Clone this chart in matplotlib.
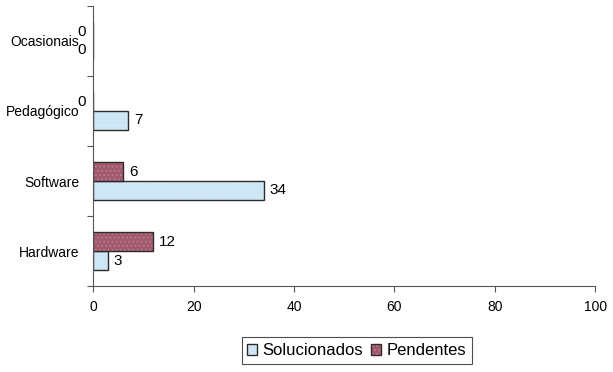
import matplotlib.pyplot as plt
import numpy as np

plt.rcParams['font.family'] = ['Liberation Sans', 'DejaVu Sans']

categorias = ['Hardware', 'Software', 'Pedagógico', 'Ocasionais']
solucionados = [3, 34, 7, 0]
pendentes = [12, 6, 0, 0]

cor_sol = '#cde6f5'
cor_pen = '#a3596d'
h = 0.27

fig = plt.figure(figsize=(6.13, 3.72), dpi=100)
ax = fig.add_axes([0.152, 0.231, 0.819, 0.753])

y = np.arange(len(categorias))
b1 = ax.barh(y - h / 2, solucionados, height=h, color=cor_sol,
             edgecolor='#2b2b2b', linewidth=1.0, hatch='....',
             label='Solucionados')
b2 = ax.barh(y + h / 2, pendentes, height=h, color=cor_pen,
             edgecolor='#2b2b2b', linewidth=1.0, hatch='....',
             label='Pendentes')
# pontilhado discreto por cima do preenchimento
for bars in (b1, b2):
    for r in bars:
        r._hatch_color = (1, 1, 1, 0.18)

# rótulos de valor; os zeros ficam encostados à esquerda do eixo
for bars, vals in ((b1, solucionados), (b2, pendentes)):
    for r, v in zip(bars, vals):
        dx, ha = (4, 'left') if v > 0 else (-5, 'right')
        ax.annotate(str(v), (v, r.get_y() + r.get_height() / 2),
                    xytext=(dx, 0), textcoords='offset points',
                    ha=ha, va='center', fontsize=11, annotation_clip=False)

ax.set_xlim(0, 100)
ax.set_ylim(-0.5, len(categorias) - 0.5)
ax.set_xticks(range(0, 101, 20))
ax.set_yticks(np.arange(-0.5, len(categorias)), labels=[])
ax.set_yticks(y, labels=categorias, minor=True)
ax.tick_params(axis='y', which='minor', length=0, labelsize=10, pad=10)
ax.tick_params(axis='y', which='major', length=4, color='#555555')
ax.tick_params(axis='x', length=4, color='#555555', labelsize=10, pad=6)

for s in ('top', 'right'):
    ax.spines[s].set_visible(False)
for s in ('left', 'bottom'):
    ax.spines[s].set_color('#555555')

leg = fig.legend(handles=[b1, b2], loc='center', bbox_to_anchor=(0.582, 0.057),
                 ncol=2, fontsize=12, frameon=True, fancybox=False,
                 handlelength=0.6, handleheight=0.6, handletextpad=0.3,
                 columnspacing=0.5, borderpad=0.35)
leg.get_frame().set_edgecolor('#222222')
leg.get_frame().set_linewidth(0.8)

fig.savefig('out.png', dpi=100)
